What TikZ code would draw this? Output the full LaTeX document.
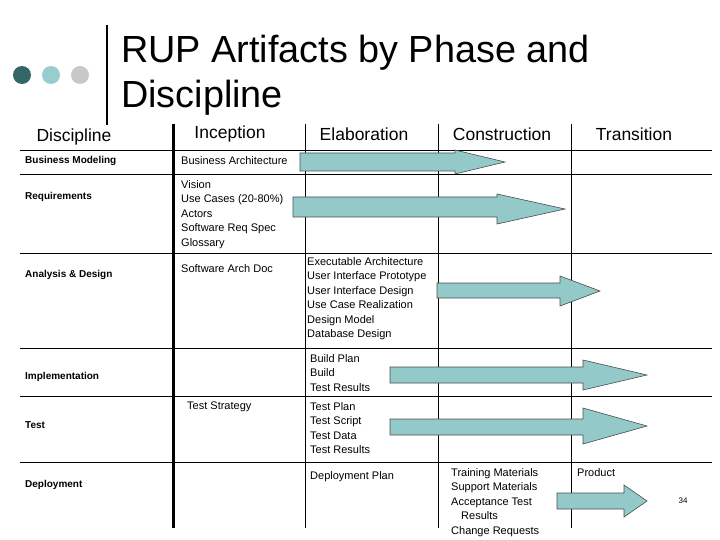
\documentclass[tikz,border=0pt]{standalone}
\usepackage{fontspec}
\setmainfont{Liberation Sans}
\begin{document}
\begin{tikzpicture}[x=1pt,y=-1pt,
  grid/.style={line width=0.8pt},
  thick grid/.style={line width=3pt},
  hdr/.style={font=\fontsize{17.5}{19}\selectfont,inner sep=0},
  disc/.style={font=\fontsize{10}{12}\selectfont\bfseries,anchor=west,inner sep=0},
  item/.style={font=\fontsize{11}{14.5}\selectfont,anchor=north west,align=left,inner sep=0},
  fat/.style={fill=arrowfill,draw=black!70,line width=0.6pt}]
\definecolor{arrowfill}{HTML}{93C9C9}
\definecolor{dotA}{HTML}{336666}
\definecolor{dotB}{HTML}{99CCCC}
\definecolor{dotC}{HTML}{C8C8C8}
\useasboundingbox (0,0) rectangle (720,540);
% decoration
\fill[dotA] (22,75) circle (9);
\fill[dotB] (51,75) circle (9);
\fill[dotC] (80,75) circle (9);
\draw[line width=2pt] (107,25) -- (107,125);
\node[anchor=west,inner sep=0,align=left,font=\fontsize{37.8}{45}\selectfont] (title) at (121,75) {RUP Artifacts by Phase and\\Discipline};
% grid
\draw[thick grid] (173,124) -- (173,528);
\foreach \x in {305,438,571} \draw[grid] (\x,124) -- (\x,528);
\foreach \y in {150,174,253,348,396,462} \draw[grid] (20,\y) -- (712,\y);
% headers
\node[hdr] (h1) at (74,137) {Discipline};
\node[hdr] (h2) at (230,134) {Inception};
\node[hdr] (h3) at (364,134) {Elaboration};
\node[hdr] (h4) at (502,134) {Construction};
\node[hdr] (h5) at (634,134) {Transition};
% disciplines
\node[disc] (d1) at (25,161) {Business Modeling};
\node[disc] (d2) at (25,197) {Requirements};
\node[disc] (d3) at (25,275) {Analysis \& Design};
\node[disc] (d4) at (25,377) {Implementation};
\node[disc] (d5) at (25,425) {Test};
\node[disc] (d6) at (25,485) {Deployment};
% items
\node[item] (i1) at (181,156) {Business Architecture};
\node[item] (i2) at (181,180) {Vision\\Use Cases (20-80\%)\\Actors\\Software Req Spec\\Glossary};
\node[item] (i3) at (181,264) {Software Arch Doc};
\node[item] (i4) at (307,257) {Executable Architecture\\User Interface Prototype\\User Interface Design\\Use Case Realization\\Design Model\\Database Design};
\node[item] (i5) at (310,354) {Build Plan\\Build\\Test Results};
\node[item] (i6) at (187,402) {Test Strategy};
\node[item] (i7) at (310,402) {Test Plan\\Test Script\\Test Data\\Test Results};
\node[item] (i8) at (310,471) {Deployment Plan};
\node[item] (i9) at (451,468) {Training Materials\\Support Materials\\Acceptance Test\\\hspace*{10pt}Results\\Change Requests};
\node[item] (i10) at (577,468) {Product};
\node[inner sep=0,font=\fontsize{8}{9}\selectfont] (pg) at (683,501) {34};
% arrows
\newcommand{\fatarrow}[7]{\draw[fat] (#1,#4) -- (#2,#4) -- (#2,#6) -- (#3,{(#6+#7)/2}) -- (#2,#7) -- (#2,#5) -- (#1,#5) -- cycle;}
\fatarrow{300}{455}{505}{153}{171}{150}{174}
\fatarrow{293}{497}{565}{197}{217}{194}{224}
\fatarrow{437}{560}{600}{283}{298}{276}{306}
\fatarrow{390}{583}{647}{367}{383}{360}{390}
\fatarrow{390}{583}{647}{419}{435}{408}{444}
\fatarrow{557}{624}{647}{493}{509}{485}{517}
\end{tikzpicture}
\end{document}
